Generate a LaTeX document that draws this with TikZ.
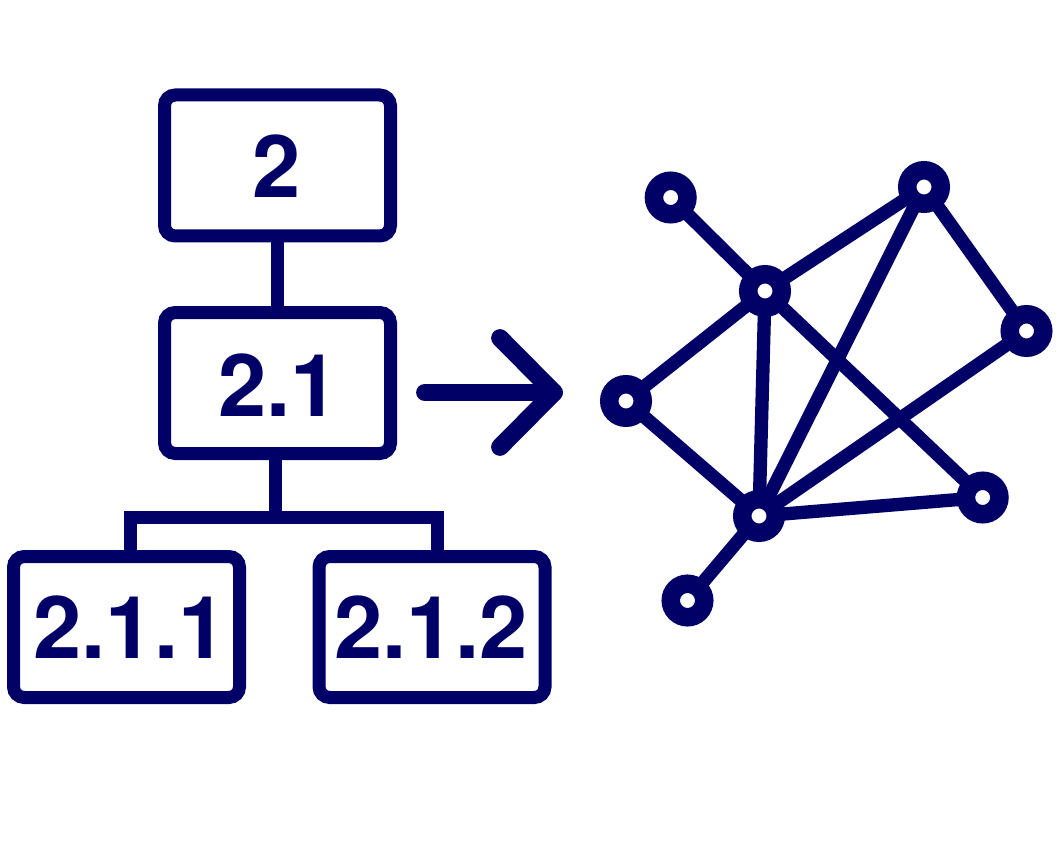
\documentclass[tikz,border=0pt]{standalone}
\usepackage{fontspec}
\setmainfont{TeX Gyre Heros}
\definecolor{navy}{HTML}{000066}
\tikzset{
  treebox/.style={draw=navy,line width=9.75pt,rounded corners=8pt,fill=white,minimum width=169.5pt,minimum height=105.75pt,inner sep=0pt,outer sep=0pt},
  treelabel/.style={text=navy,inner sep=0pt,font=\fontsize{65pt}{65pt}\selectfont\bfseries},
  hub/.style={circle,draw=navy,line width=13.9pt,fill=white,minimum size=25.1pt,inner sep=0pt,outer sep=0pt},
  link/.style={draw=navy,line width=9.75pt},
  netlink/.style={draw=navy,line width=10pt},
  arrowline/.style={draw=navy,line width=13.3pt,line cap=round,line join=round}
}
\begin{document}
\begin{tikzpicture}[x=0.75pt,y=-0.75pt]
\useasboundingbox (0,0) rectangle (1056,852);
\fill[white] (0,0) rectangle (1056,852);
\coordinate (busL) at (130,517);
\coordinate (busR) at (437,517);
\coordinate (busM) at (275,517);
\node[treebox] (b2) at (277.5,165.5) {};
\node[treebox] (b21) at (277.5,383) {};
\node[treebox] (b211) at (126.5,627) {};
\node[treebox] (b212) at (432,627) {};
\path[link] (b2.south) -- (b21.north);
\path[link] (b21.south -| busM) -- (busM);
\path[link,line cap=rect] (busL) -- (busR);
\path[link] (busL) -- (b211.north -| busL);
\path[link] (busR) -- (b212.north -| busR);
\node[treelabel] (t2) at (277,166.5) {2};
\node[treelabel] (t21) at (278.5,385) {2.1};
\node[treelabel] (t211) at (130,627.5) {2.1.1};
\node[treelabel] (t212) at (431,627.5) {2.1.2};
\coordinate (as) at (425,392.5);
\coordinate (ae) at (554,392.5);
\coordinate (au) at (500,338);
\coordinate (ad) at (500,447);
\path[arrowline] (as) -- (ae);
\path[arrowline] (au) -- (ae) -- (ad);
\coordinate (n1) at (670.7,197.5);
\coordinate (n2) at (924,187);
\coordinate (n3) at (765,291);
\coordinate (n4) at (1026.5,331);
\coordinate (n5) at (626,401);
\coordinate (n6) at (759,516);
\coordinate (n7) at (982.7,497.5);
\coordinate (n8) at (687.5,600.5);
\foreach \a/\b in {n1/n3,n3/n2,n2/n4,n2/n6,n3/n6,n3/n7,n3/n5,n5/n6,n6/n4,n6/n7,n6/n8}{\path[netlink] (\a) -- (\b);}
\foreach \c in {n1,n2,n3,n4,n5,n6,n7,n8}{\node[hub] (h\c) at (\c) {};}
\end{tikzpicture}
\end{document}
